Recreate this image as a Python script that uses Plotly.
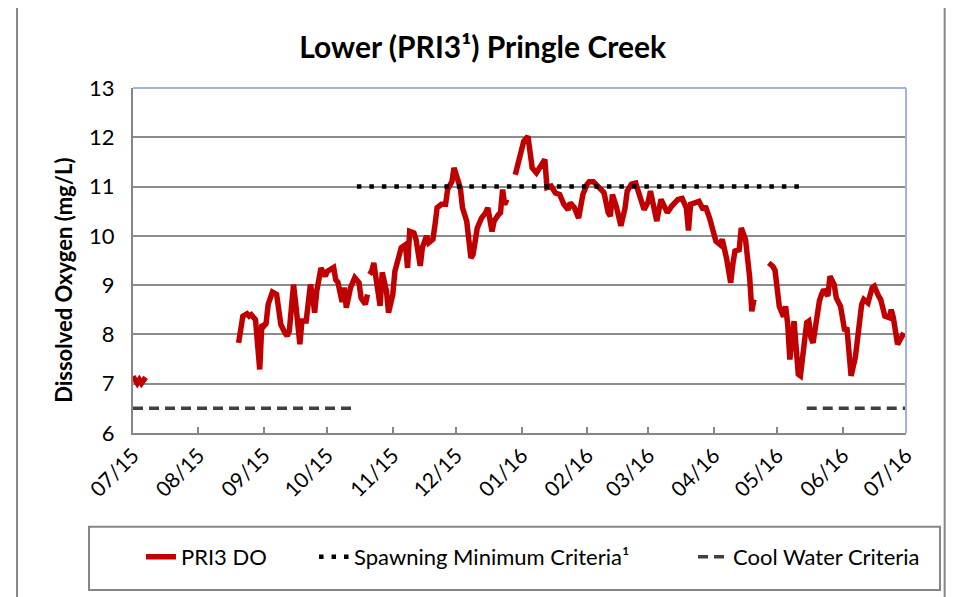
import plotly.graph_objects as go

# PRI3 dissolved oxygen readings (None = gap in record)
do_dates = [
    "2015-07-01", "2015-07-03", "2015-07-04", "2015-07-05", "2015-07-07", "2015-07-08",
    "2015-08-20", "2015-08-22", "2015-08-24", "2015-08-25", "2015-08-26", "2015-08-28",
    "2015-08-30", "2015-08-31", "2015-09-01", "2015-09-02", "2015-09-03", "2015-09-05",
    "2015-09-07", "2015-09-09", "2015-09-11", "2015-09-12", "2015-09-13", "2015-09-15",
    "2015-09-16", "2015-09-18", "2015-09-19", "2015-09-21", "2015-09-23", "2015-09-24",
    "2015-09-25", "2015-09-26", "2015-09-28", "2015-09-30", "2015-10-01", "2015-10-04",
    "2015-10-05", "2015-10-06", "2015-10-08", "2015-10-09", "2015-10-10", "2015-10-12",
    "2015-10-14", "2015-10-16", "2015-10-17", "2015-10-19", "2015-10-20", "2015-10-20 12:00",
    "2015-10-21", "2015-10-22", "2015-10-23", "2015-10-24", "2015-10-26", "2015-10-27",
    "2015-10-29", "2015-10-30", "2015-11-01", "2015-11-02", "2015-11-04", "2015-11-05",
    "2015-11-07", "2015-11-08", "2015-11-09", "2015-11-11", "2015-11-12", "2015-11-14",
    "2015-11-15", "2015-11-17", "2015-11-18", "2015-11-20", "2015-11-21", "2015-11-22",
    "2015-11-24", "2015-11-26", "2015-11-27", "2015-11-29", "2015-11-30", "2015-12-02",
    "2015-12-03", "2015-12-04", "2015-12-05", "2015-12-06", "2015-12-08", "2015-12-09",
    "2015-12-11", "2015-12-13", "2015-12-15", "2015-12-16", "2015-12-18", "2015-12-19",
    "2015-12-21", "2015-12-22", "2015-12-23", "2015-12-24", "2015-12-25", "2015-12-26",
    "2015-12-29", "2015-12-31", "2016-01-02", "2016-01-04", "2016-01-05", "2016-01-06",
    "2016-01-08", "2016-01-10", "2016-01-12", "2016-01-13", "2016-01-15", "2016-01-17",
    "2016-01-19", "2016-01-21", "2016-01-23", "2016-01-24", "2016-01-26", "2016-01-28",
    "2016-01-30", "2016-02-01", "2016-02-02", "2016-02-04", "2016-02-06", "2016-02-08",
    "2016-02-09", "2016-02-11", "2016-02-12", "2016-02-13", "2016-02-15", "2016-02-17",
    "2016-02-19", "2016-02-20", "2016-02-22", "2016-02-24", "2016-02-25", "2016-02-27",
    "2016-02-28", "2016-03-01", "2016-03-02", "2016-03-04", "2016-03-05", "2016-03-07",
    "2016-03-08", "2016-03-10", "2016-03-12", "2016-03-13", "2016-03-15", "2016-03-17",
    "2016-03-19", "2016-03-20", "2016-03-21", "2016-03-23", "2016-03-25", "2016-03-27",
    "2016-03-28", "2016-03-30", "2016-04-01", "2016-04-02", "2016-04-04", "2016-04-05",
    "2016-04-07", "2016-04-09", "2016-04-10", "2016-04-11", "2016-04-13", "2016-04-14",
    "2016-04-16", "2016-04-18", "2016-04-19", "2016-04-20", "2016-04-21", "2016-04-27",
    "2016-04-29", "2016-04-30", "2016-05-01", "2016-05-02", "2016-05-04", "2016-05-05",
    "2016-05-06", "2016-05-07", "2016-05-09", "2016-05-10", "2016-05-11", "2016-05-12",
    "2016-05-14", "2016-05-15", "2016-05-16", "2016-05-17", "2016-05-18", "2016-05-20",
    "2016-05-21", "2016-05-22", "2016-05-23", "2016-05-25", "2016-05-26", "2016-05-28",
    "2016-05-29", "2016-05-31", "2016-06-02", "2016-06-03", "2016-06-04", "2016-06-05",
    "2016-06-07", "2016-06-09", "2016-06-10", "2016-06-11", "2016-06-13", "2016-06-15",
    "2016-06-16", "2016-06-18", "2016-06-19", "2016-06-21", "2016-06-23", "2016-06-24",
    "2016-06-25", "2016-06-27", "2016-06-29", "2016-06-30",
]
do_values = [
    7.15, 7.01, 7.08, 7.01, 7.13, None,
    7.83, 8.37, 8.42, 8.37, 8.40, 8.30,
    7.29, 8.20, 8.17, 8.22, 8.61, 8.86,
    8.81, 8.20, 8.03, 7.97, 8.07, 9.01,
    8.64, 7.80, 8.27, 8.27, 9.01, 8.81,
    8.44, 8.88, 9.35, 9.18, 9.28, 9.36,
    9.11, 9.06, 8.66, 8.95, 8.54, 8.95,
    9.15, 9.05, 8.74, 8.61, 8.81, None,
    9.22, 9.28, 9.45, 9.15, 8.58, 9.26,
    8.88, 8.44, 8.81, 9.28, 9.69, 9.76,
    9.82, 9.35, 10.09, 10.06, 9.93, 9.39,
    9.76, 10.00, 9.86, 9.93, 10.23, 10.57,
    10.64, 10.64, 10.95, 11.10, 11.38, 11.14,
    10.97, 10.57, 10.43, 10.30, 9.55, 9.62,
    10.16, 10.36, 10.47, 10.57, 10.09, 10.30,
    10.43, 10.47, 10.94, 10.64, 10.74, None,
    11.24, 11.58, 11.92, 12.02, 11.58, 11.38,
    11.28, 11.41, 11.55, 10.98, 11.01, 10.87,
    10.84, 10.64, 10.53, 10.67, 10.57, 10.36,
    10.84, 11.05, 11.10, 11.10, 11.01, 10.91,
    10.88, 10.47, 10.40, 10.84, 10.57, 10.20,
    10.57, 10.91, 11.05, 11.07, 10.91, 10.60,
    10.53, 10.70, 10.91, 10.50, 10.30, 10.74,
    10.64, 10.47, 10.60, 10.64, 10.74, 10.76,
    10.57, 10.11, 10.64, 10.67, 10.70, 10.53,
    10.60, 10.36, 10.09, 9.89, 9.82, 9.93,
    9.55, 9.05, 9.42, 9.69, 9.72, 10.16,
    9.93, 9.15, 8.47, 8.71, None, 9.45,
    9.38, 9.30, 9.00, 8.57, 8.36, 8.57,
    8.20, 7.49, 8.27, 7.53, 7.19, 7.16,
    7.93, 8.24, 8.27, 7.93, 7.83, 8.47,
    8.68, 8.81, 8.91, 8.78, 9.18, 9.01,
    8.74, 8.57, 8.07, 8.14, 7.53, 7.16,
    7.53, 8.20, 8.61, 8.71, 8.64, 8.95,
    8.98, 8.78, 8.71, 8.37, 8.34, 8.50,
    8.34, 7.80, 8.00, 8.03,
]

spawn_dates = ["2015-10-15", "2016-05-15"]
spawn_values = [11, 11]

cool_dates = ["2015-07-01", "2015-10-15", "2015-10-16", "2016-05-15", "2016-07-01"]
cool_values = [6.5, 6.5, None, 6.5, 6.5]

FONT = "Lato"

fig = go.Figure()
fig.add_trace(go.Scatter(x=do_dates, y=do_values, mode="lines", name="PRI3 DO",
                         line=dict(color="#C00000", width=5.5), connectgaps=False,
                         legend="legend"))
fig.add_trace(go.Scatter(x=spawn_dates, y=spawn_values, mode="lines",
                         name="Spawning Minimum Criteria¹",
                         line=dict(color="black", width=4.5, dash="4.5px,8px"),
                         legend="legend2"))
fig.add_trace(go.Scatter(x=cool_dates, y=cool_values, mode="lines",
                         name="Cool Water Criteria", connectgaps=False,
                         line=dict(color="#404040", width=3.5, dash="10px,6px"),
                         legend="legend3"))

leg = dict(orientation="h", xanchor="left", y=-0.359, yanchor="middle",
           font=dict(size=22, family=FONT, color="black"), bgcolor="rgba(0,0,0,0)")

fig.update_layout(
    width=957, height=597,
    margin=dict(l=125, r=59, t=80, b=172),
    paper_bgcolor="white", plot_bgcolor="white",
    font=dict(family=FONT, color="black"),
    title=dict(text="<b>Lower (PRI3¹) Pringle Creek</b>", x=0.496, xref="container",
               xanchor="center", y=0.933, yanchor="middle",
               font=dict(size=30, family=FONT, color="black")),
    showlegend=True,
    legend=dict(leg, x=0.0103),
    legend2=dict(leg, x=0.2342),
    legend3=dict(leg, x=0.7245),
)

fig.update_xaxes(
    type="date", range=["2015-07-01", "2016-07-01"],
    tick0="2015-07-01", dtick="M1", tickformat="%m/%y", tickangle=-45,
    ticks="inside", ticklen=6, tickcolor="#868686", tickwidth=1.5,
    showline=True, linecolor="#868686", linewidth=2,
    showgrid=False, zeroline=False,
    tickfont=dict(size=21, family=FONT, color="black"),
)
fig.update_yaxes(
    range=[6, 13], dtick=1,
    showline=True, linecolor="#868686", linewidth=2,
    showgrid=True, gridcolor="#8C8C8C", gridwidth=1.5, zeroline=False,
    ticks="", ticklabelstandoff=12,
    tickfont=dict(size=22, family=FONT, color="black"),
)

# y-axis title
fig.add_annotation(text="<b>Dissolved Oxygen (mg/L)</b>", textangle=-90,
                   xref="paper", yref="paper", x=-0.111, y=0.443,
                   showarrow=False, font=dict(size=22, family=FONT, color="black"))

# blue top/right plot border, legend box, outer chart border
fig.add_shape(type="line", xref="paper", yref="paper", x0=0, x1=1, y0=1, y1=1,
              line=dict(color="#9BB5DC", width=2))
fig.add_shape(type="line", xref="paper", yref="paper", x0=1, x1=1, y0=0, y1=1,
              line=dict(color="#9BB5DC", width=2))
fig.add_shape(type="rect", xref="paper", yref="paper", x0=-0.0569, x1=1.044,
              y0=-0.455, y1=-0.272, line=dict(color="#868686", width=2))
fig.add_shape(type="rect", xref="paper", yref="paper", x0=-0.150, x1=1.050,
              y0=-0.6, y1=1.235, line=dict(color="#868686", width=2))

fig.write_html("out.html")
